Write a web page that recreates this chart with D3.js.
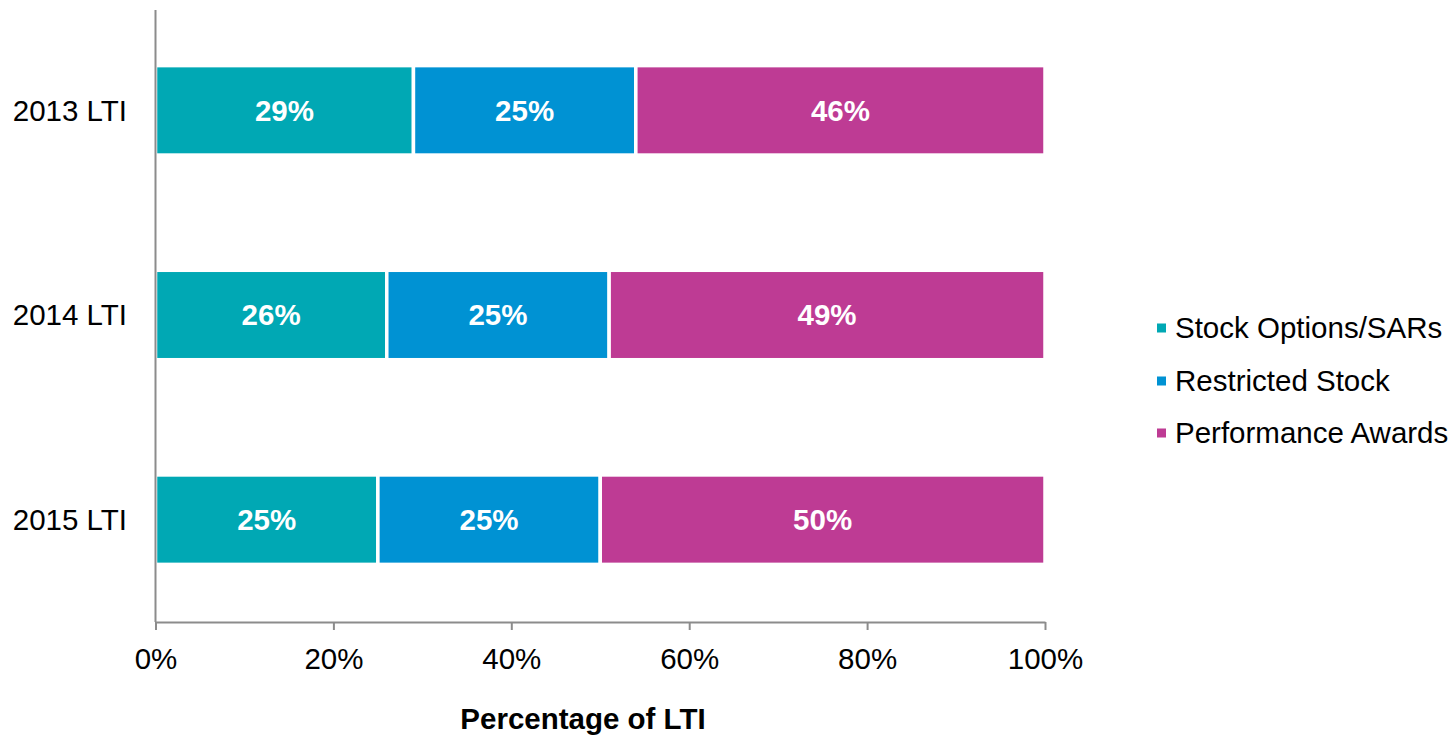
<!DOCTYPE html>
<html><head><meta charset="utf-8">
<script src="https://cdn.jsdelivr.net/npm/d3@7"></script>
<style>body{margin:0;background:#fff}svg{display:block}text{font-family:"Liberation Sans",Arial,sans-serif}</style>
</head><body><svg id="c" width="1456" height="735"></svg>
<script>
const categories = ["2013 LTI","2014 LTI","2015 LTI"];
const seriesNames = ["Stock Options/SARs","Restricted Stock","Performance Awards"];
const stockOptions = [29,26,25];
const restrictedStock = [25,25,25];
const performanceAwards = [46,49,50];
const xTicks = [0,20,40,60,80,100];
const colors = ["#00A8B4","#0092D3","#BE3B94"];

(function(){
const svg = d3.select("#c");
const FS = 29.5;
const pl = 155.5, pr = 1045, pt = 8, pb = 622;
const x = d3.scaleLinear().domain([0,100]).range([pl,pr]);
const y = d3.scaleBand().domain(categories).range([pt,pb]).paddingInner(0.563).paddingOuter(0.2815);

const series = [stockOptions, restrictedStock, performanceAwards];
const data = categories.map((c,i)=>({cat:c, vals:series.map(s=>s[i])}));
const stack = d3.stack().keys([0,1,2]).value((d,k)=>d.vals[k]);
const stacked = stack(data);

const g = svg.append("g");
stacked.forEach((layer,k)=>{
  layer.forEach((d,i)=>{
    const x0=x(d[0]), x1=x(d[1]);
    g.append("rect").attr("x",x0).attr("y",y(d.data.cat)).attr("width",x1-x0).attr("height",y.bandwidth())
      .attr("fill",colors[k]).attr("stroke","#fff").attr("stroke-width",3.5);
    g.append("text").attr("x",(x0+x1)/2).attr("y",y(d.data.cat)+y.bandwidth()/2).attr("dy","0.35em")
      .attr("text-anchor","middle").attr("fill","#fff").attr("font-weight","bold").attr("font-size",FS)
      .text(d.data.vals[k]+"%");
  });
});

const axisColor="#8c8c8c";
svg.append("line").attr("x1",pl).attr("x2",pl).attr("y1",pt+2).attr("y2",pb).attr("stroke",axisColor).attr("stroke-width",2);
const xa = svg.append("g").attr("transform",`translate(0,${pb})`)
  .call(d3.axisBottom(x).tickValues(xTicks).tickSize(8).tickFormat(d=>d+"%").tickSizeOuter(0));
xa.select(".domain").attr("stroke",axisColor).attr("stroke-width",2);
xa.selectAll(".tick line").attr("stroke",axisColor).attr("stroke-width",2);
xa.selectAll(".tick text").attr("font-size",FS).attr("fill","#000").attr("y",46.5).attr("dy",0).style("font-family","'Liberation Sans',Arial,sans-serif");

categories.forEach(c=>{
  svg.append("text").attr("x",127).attr("y",y(c)+y.bandwidth()/2).attr("dy","0.35em").attr("text-anchor","end")
    .attr("font-size",FS).attr("fill","#000").text(c);
});

svg.append("text").attr("x",583).attr("y",729).attr("text-anchor","middle").attr("font-weight","bold").attr("font-size",FS).attr("fill","#000").text("Percentage of LTI");

const legY=[328,381,433];
seriesNames.forEach((n,k)=>{
  svg.append("rect").attr("x",1157).attr("y",legY[k]-4.5).attr("width",9).attr("height",9).attr("fill",colors[k]);
  svg.append("text").attr("x",1175).attr("y",legY[k]).attr("dy","0.35em").attr("font-size",FS).attr("fill","#000").text(n);
});
})();
</script></body></html>
